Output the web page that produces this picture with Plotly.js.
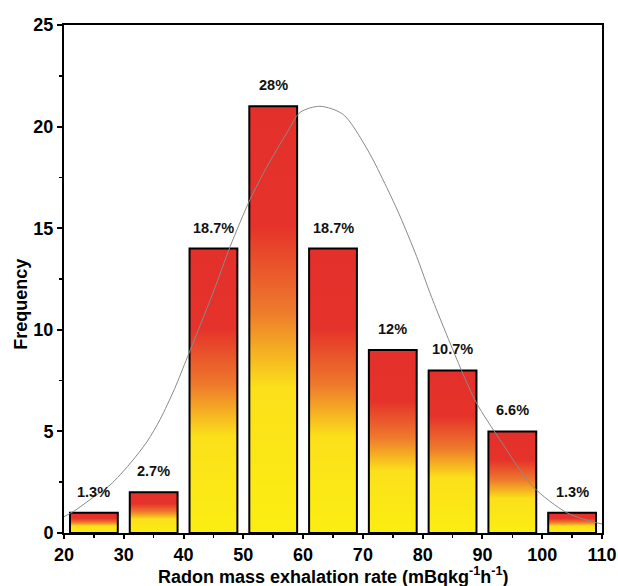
<!DOCTYPE html>
<html>
<head>
<meta charset="utf-8">
<script src="https://cdn.plot.ly/plotly-3.0.1.min.js"></script>
<style>html,body{margin:0;padding:0;background:#fff;}#chart{width:618px;height:586px;}</style>
</head>
<body>
<div id="chart"></div>
<script>
// Histogram bins (centres), frequencies and percentage labels
var binCentres = [25, 35, 45, 55, 65, 75, 85, 95, 105];
var frequency = [1, 2, 14, 21, 14, 9, 8, 5, 1];
var percentLabels = ["1.3%", "2.7%", "18.7%", "28%", "18.7%", "12%", "10.7%", "6.6%", "1.3%"];

// Axis ticks
var xTickVals = [20, 30, 40, 50, 60, 70, 80, 90, 100, 110];
var xMinorVals = [25, 35, 45, 55, 65, 75, 85, 95, 105];
var yTickVals = [0, 5, 10, 15, 20, 25];

// Fitted curve
var curveX = [20, 21.8, 24.3, 27.7, 31.0, 33.9, 36.1, 38.5, 40.7, 44.9, 47.8, 51.1, 53.9, 57.3, 59.5, 62.8, 66.7, 70.7, 74.0, 76.2, 79.0, 81.5, 86.5, 89.0, 92.9, 98.4, 104.1, 109.1, 110];
var curveY = [0.8, 1.1, 1.63, 2.36, 3.4, 4.5, 5.6, 7.1, 8.7, 11.8, 14.1, 16.4, 18.0, 19.7, 20.7, 21.0, 20.6, 18.9, 17.0, 15.6, 13.6, 11.6, 8.0, 6.4, 4.6, 2.3, 1.0, 0.5, 0.45];

var xTitle = "Radon mass exhalation rate (mBqkg<sup>-1</sup>h<sup>-1</sup>)";
var yTitle = "Frequency";

var FONT = "Liberation Sans, Arial, sans-serif";

var traces = [
  {
    type: "bar",
    x: binCentres,
    y: frequency,
    width: 8,
    marker: {color: "#f5a623", line: {color: "#000", width: 2}},
    hoverinfo: "x+y",
    showlegend: false
  },
  {
    type: "scatter",
    mode: "lines",
    x: curveX,
    y: curveY,
    line: {color: "#8a8a8a", width: 1, shape: "spline", smoothing: 0.8},
    hoverinfo: "skip",
    showlegend: false
  }
];

var annotations = binCentres.map(function (c, i) {
  return {
    x: c, y: frequency[i], xref: "x", yref: "y",
    text: percentLabels[i], showarrow: false,
    yanchor: "middle", yshift: 21,
    font: {family: FONT, size: 14.5, weight: "bold", color: "#111"}
  };
});
annotations.push({
  xref: "paper", yref: "paper", x: 0.5, y: 0, yshift: -42,
  xanchor: "center", yanchor: "middle", showarrow: false,
  text: xTitle,
  font: {family: FONT, size: 18, weight: "bold", color: "#000"}
});
annotations.push({
  xref: "paper", yref: "paper", x: -0.08, y: 0.451,
  xanchor: "center", yanchor: "middle", showarrow: false, textangle: -90,
  text: yTitle,
  font: {family: FONT, size: 18, weight: "bold", color: "#000"}
});

var layout = {
  width: 618, height: 586,
  margin: {l: 64, r: 16, t: 25, b: 53},
  paper_bgcolor: "#fff", plot_bgcolor: "#fff",
  bargap: 0,
  xaxis: {
    range: [20, 110], tickmode: "array", tickvals: xTickVals,
    showline: true, linecolor: "#000", linewidth: 2, mirror: true,
    ticks: "outside", ticklen: 4, tickwidth: 2, tickcolor: "#000",
    minor: {tickmode: "array", tickvals: xMinorVals, ticks: "outside", ticklen: 3, tickwidth: 1.5, tickcolor: "#000"},
    showgrid: false, zeroline: false,
    tickfont: {family: FONT, size: 18, weight: "bold", color: "#000"},
    automargin: false
  },
  yaxis: {
    range: [0, 25], tickmode: "array", tickvals: yTickVals,
    showline: true, linecolor: "#000", linewidth: 2, mirror: true,
    ticks: "outside", ticklen: 5, tickwidth: 2, tickcolor: "#000",
    minor: {dtick: 2.5, ticks: "outside", ticklen: 3, tickwidth: 1.5, tickcolor: "#000"},
    showgrid: false, zeroline: false,
    tickfont: {family: FONT, size: 18, weight: "bold", color: "#000"},
    automargin: false
  },
  annotations: annotations
};

function applyGradient(gd) {
  var svg = gd.querySelector("svg.main-svg");
  if (!svg) return;
  var ns = "http://www.w3.org/2000/svg";
  if (!svg.querySelector("#barGrad")) {
    var defs = svg.querySelector("defs");
    if (!defs) { defs = document.createElementNS(ns, "defs"); svg.insertBefore(defs, svg.firstChild); }
    var g = document.createElementNS(ns, "linearGradient");
    g.setAttribute("id", "barGrad");
    g.setAttribute("x1", "0"); g.setAttribute("y1", "0");
    g.setAttribute("x2", "0"); g.setAttribute("y2", "1");
    var stops = [[0, "#e4302b"], [0.28, "#e5322a"], [0.48, "#ee7a2c"], [0.66, "#fbe01a"], [1, "#fbee12"]];
    stops.forEach(function (s) {
      var st = document.createElementNS(ns, "stop");
      st.setAttribute("offset", s[0]);
      st.setAttribute("stop-color", s[1]);
      g.appendChild(st);
    });
    defs.appendChild(g);
  }
  var paths = gd.querySelectorAll(".barlayer .point path");
  paths.forEach(function (p) { p.style.fill = "url(#barGrad)"; p.style.fillOpacity = "1"; });
}

var gd = document.getElementById("chart");
Plotly.newPlot(gd, traces, layout, {displayModeBar: false, staticPlot: true}).then(function () {
  applyGradient(gd);
  gd.on("plotly_afterplot", function () { applyGradient(gd); });
});
</script>
</body>
</html>
